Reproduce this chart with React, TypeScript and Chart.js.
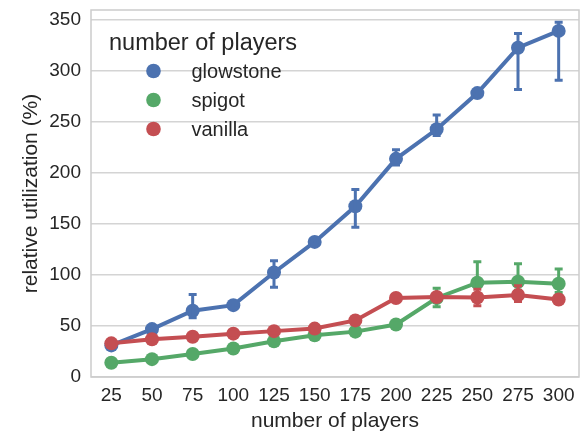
import React, { useEffect, useRef } from 'react';
import { Chart, registerables } from 'chart.js';

Chart.register(...registerables);

const categories = ['25', '50', '75', '100', '125', '150', '175', '200', '225', '250', '275', '300'];

const glowstone = [31, 47, 65, 70.5, 102.5, 132.5, 167.5, 214, 243, 278.5, 323, 339.5];
const glowstoneLow = [29, 45, 58, 68, 88, 130, 147, 208, 237, 276, 282, 291];
const glowstoneHigh = [33, 49, 81, 73, 114, 135, 184, 223, 257, 281, 337, 348];

const spigot = [14, 17.5, 22.5, 28, 35, 41, 44.5, 51.5, 77.5, 92.5, 93.5, 91.5];
const spigotLow = [13, 16.5, 21, 26.5, 33.5, 39.5, 43, 50, 69, 80, 85, 83];
const spigotHigh = [15, 18.5, 24, 29.5, 36.5, 42.5, 46, 53, 87, 113, 111, 106];

const vanilla = [33, 37, 39.5, 42.5, 45, 47.5, 55.5, 77.5, 78.5, 78, 80.5, 76];
const vanillaLow = [32, 36, 38, 41, 43.5, 46, 53.5, 75.5, 76, 70, 74, 74];
const vanillaHigh = [34, 38, 41, 44, 46.5, 49, 57.5, 79.5, 81, 86, 89.5, 78];

const seriesNames = ['glowstone', 'spigot', 'vanilla'];
const seriesColors = ['#4C72B0', '#55A868', '#C44E52'];

const legendTitle = 'number of players';
const xTitle = 'number of players';
const yTitle = 'relative utilization (%)';

const FONT = "'Liberation Sans', Arial, sans-serif";
const TEXT = '#262626';
const GRID = '#d4d4d4';

const errorBarPlugin = {
  id: 'errorBars',
  afterDatasetDraw(chart: any, args: any) {
    const ds = chart.data.datasets[args.index] as any;
    if (!ds.errLow) return;
    const y = chart.scales.y;
    const ctx = chart.ctx;
    ctx.save();
    ctx.strokeStyle = ds.borderColor;
    ctx.lineWidth = 3;
    ctx.lineCap = 'square';
    args.meta.data.forEach((pt: any, i: number) => {
      const lo = ds.errLow[i];
      const hi = ds.errHigh[i];
      if (lo == null || hi == null) return;
      const x = pt.x;
      const yl = y.getPixelForValue(lo);
      const yh = y.getPixelForValue(hi);
      ctx.beginPath();
      ctx.moveTo(x, yl);
      ctx.lineTo(x, yh);
      ctx.moveTo(x - 2.5, yl);
      ctx.lineTo(x + 2.5, yl);
      ctx.moveTo(x - 2.5, yh);
      ctx.lineTo(x + 2.5, yh);
      ctx.stroke();
    });
    ctx.restore();
  },
};

const framePlugin = {
  id: 'frame',
  beforeDatasetsDraw(chart: any) {
    const { ctx, chartArea } = chart;
    ctx.save();
    ctx.strokeStyle = '#cccccc';
    ctx.lineWidth = 1.5;
    ctx.strokeRect(chartArea.left, chartArea.top, chartArea.right - chartArea.left, chartArea.bottom - chartArea.top);
    ctx.restore();
  },
};

const legendPlugin = {
  id: 'customLegend',
  afterDraw(chart: any) {
    const ctx = chart.ctx;
    ctx.save();
    ctx.fillStyle = TEXT;
    ctx.font = `23.5px ${FONT}`;
    ctx.textBaseline = 'alphabetic';
    ctx.textAlign = 'left';
    ctx.fillText(legendTitle, 109, 50);
    ctx.font = `20px ${FONT}`;
    ctx.textBaseline = 'middle';
    chart.data.datasets.forEach((ds: any, i: number) => {
      const cy = 71 + i * 29;
      ctx.fillStyle = ds.backgroundColor;
      ctx.beginPath();
      ctx.arc(153.5, cy, 7.3, 0, Math.PI * 2);
      ctx.fill();
      ctx.fillStyle = TEXT;
      ctx.fillText(ds.label, 191.5, cy + 1);
    });
    ctx.restore();
  },
};

export default function App() {
  const ref = useRef<HTMLCanvasElement | null>(null);

  useEffect(() => {
    if (!ref.current) return;
    const values = [glowstone, spigot, vanilla];
    const lows = [glowstoneLow, spigotLow, vanillaLow];
    const highs = [glowstoneHigh, spigotHigh, vanillaHigh];
    const chart = new Chart(ref.current, {
      type: 'line',
      data: {
        labels: categories,
        datasets: seriesNames.map((name, i) => ({
          label: name,
          data: values[i],
          errLow: lows[i],
          errHigh: highs[i],
          borderColor: seriesColors[i],
          backgroundColor: seriesColors[i],
          borderWidth: 4,
          pointRadius: 7,
          pointBorderWidth: 0,
          pointBackgroundColor: seriesColors[i],
          tension: 0,
          order: 3 - i,
        })) as any,
      },
      options: {
        animation: false,
        responsive: true,
        maintainAspectRatio: false,
        layout: { padding: { left: 0, top: 10, right: 3, bottom: 0 } },
        plugins: {
          legend: { display: false },
          tooltip: { enabled: false },
        },
        scales: {
          x: {
            type: 'category',
            offset: true,
            grid: { display: false, drawTicks: false },
            border: { display: false },
            ticks: { color: TEXT, font: { family: FONT, size: 19 }, padding: 7, maxRotation: 0, autoSkip: false },
            title: { display: true, text: xTitle, color: TEXT, font: { family: FONT, size: 21, lineHeight: 1 }, padding: { top: 0, bottom: 0 } },
            afterFit(scale: any) {
              scale.height = 55;
              scale.paddingLeft = 0;
              scale.paddingRight = 0;
            },
          },
          y: {
            min: 0,
            max: 360,
            grid: { color: GRID, lineWidth: 1.5, drawTicks: false },
            border: { display: false },
            ticks: { stepSize: 50, includeBounds: false, color: TEXT, font: { family: FONT, size: 19 }, padding: 10 },
            title: { display: true, text: yTitle, color: TEXT, font: { family: FONT, size: 21, lineHeight: 1 }, padding: { top: 21, bottom: 0 } },
            afterFit(scale: any) {
              scale.width = 91;
              scale.paddingTop = 0;
              scale.paddingBottom = 0;
            },
          },
        },
      },
      plugins: [errorBarPlugin, framePlugin, legendPlugin],
    });
    return () => chart.destroy();
  }, []);

  return (
    <div style={{ position: 'fixed', left: 0, top: 0, width: 586, height: 432 }}>
      <canvas ref={ref} />
    </div>
  );
}
